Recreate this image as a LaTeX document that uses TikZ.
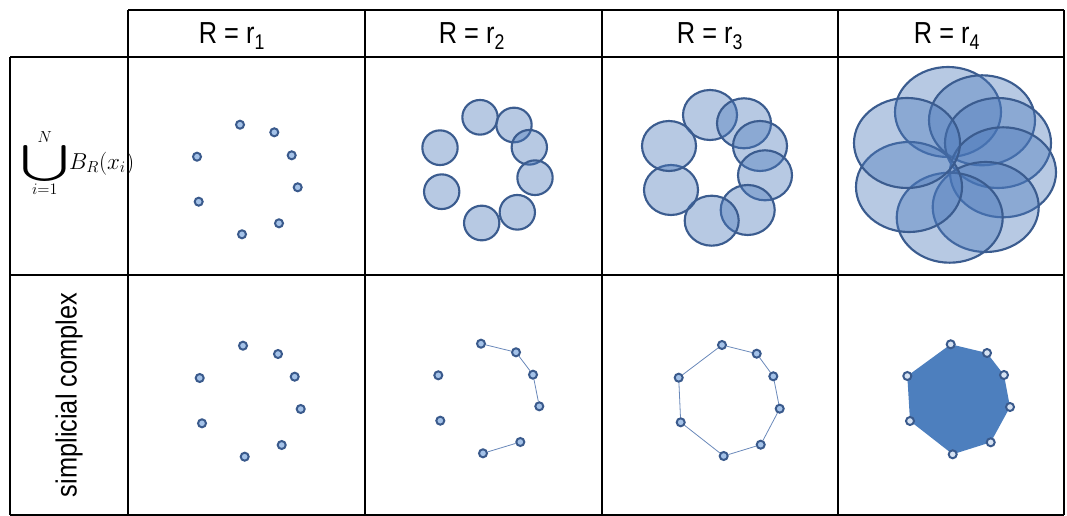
\documentclass[tikz,border=0pt]{standalone}
\usepackage[no-math]{fontspec}
\setmainfont{Liberation Sans}
\usetikzlibrary{shapes.geometric}
\definecolor{dotfill}{HTML}{A4C2E8}
\definecolor{dotline}{HTML}{3A5A8C}
\definecolor{dotwhite}{HTML}{D6E2F2}
\definecolor{ballfill}{HTML}{4A78BA}
\definecolor{ballline}{HTML}{3B5C8F}
\definecolor{edgecol}{HTML}{6A89BA}
\definecolor{polyfill}{HTML}{4D7FBE}
\pgfdeclarelayer{bg}\pgfsetlayers{bg,main}
\begin{document}
\begin{tikzpicture}[x=0.75pt,y=-0.75pt,
 grid/.style={line width=1.5pt,black},
 dot/.style={circle,draw=dotline,fill=dotfill,line width=1.5pt,minimum size=6pt,inner sep=0pt},
 wdot/.style={dot,fill=dotwhite},
 ball/.style={ellipse,draw=ballline,fill=ballfill,fill opacity=0.4,draw opacity=1,line width=1.6pt,inner sep=0pt},
 edge/.style={draw=edgecol,line width=0.6pt},
 head/.style={font=\fontsize{19}{21}\selectfont},
]
\useasboundingbox (0,0) rectangle (1067,516);
% headers
\node[head] (h1) at (232,36) {\scalebox{1}[1.2]{R = r\textsubscript{1}}};
\node[head] (h2) at (472,36) {\scalebox{1}[1.2]{R = r\textsubscript{2}}};
\node[head] (h3) at (710,36) {\scalebox{1}[1.2]{R = r\textsubscript{3}}};
\node[head] (h4) at (947,36) {\scalebox{1}[1.2]{R = r\textsubscript{4}}};
% row labels
\node[anchor=west,font=\fontsize{18}{20}\selectfont,inner sep=0pt] (l2) at (20,163)
  {$\mathop{\vcenter{\hbox{\scalebox{4.4}[2.7]{$\bigcup$}}}}\limits_{i=1}^{N}\! B_R(x_i)$};
\node[rotate=90,font=\fontsize{19}{21}\selectfont] (l3) at (69,395) {\scalebox{1}[1.15]{simplicial complex}};
% row 2, column 1: points
\foreach \x/\y [count=\i] in {240/124.7,274.3/132.3,291.7/155.3,297.7/187.3,279/223.3,242/234.3,198.7/201.7,197/156.7}
  \node[dot] (a1p\i) at (\x,\y) {};
% row 2, column 2: balls
\foreach \x/\y [count=\i] in {480/117.3,514/125,529.3/147.3,535/177.7,517.3/212.3,481.7/223,441.7/191.7,440/147.7}
  \node[ball,minimum width=26.5pt,minimum height=26pt] (a2p\i) at (\x,\y) {};
% row 2, column 3
\foreach \x/\y [count=\i] in {710/115,744/123.3,760/146,765/175.3,747.7/210,711.7/220.7,671/190,669/146}
  \node[ball,minimum width=40.5pt,minimum height=37.5pt] (a3p\i) at (\x,\y) {};
% row 2, column 4
\foreach \x/\y [count=\i] in {948/112,982/120.3,998/143,1003/172.3,985.7/207,949.7/217.7,909/187,907/143}
  \node[ball,minimum width=79.5pt,minimum height=67.5pt] (a4p\i) at (\x,\y) {};
% row 3
\foreach \x/\y [count=\i] in {243/345.7,278/354,294.7/376.7,300.7/409,281.7/445,244.7/456.7,202/423.3,199.7/378}
  \node[dot] (b1p\i) at (\x,\y) {};
\foreach \x/\y [count=\i] in {481/343.7,516/352.3,533/374.7,539.3/406.3,520.3/442,483/453.3,440.3/420.7,438.3/375.3}
  \node[dot] (b2p\i) at (\x,\y) {};
\foreach \x/\y [count=\i] in {722/345,756.7/353.7,773.3/376.3,779.7/408.7,760.7/444.7,723.7/456,680.7/422.3,678.7/377.7}
  \node[dot] (b3p\i) at (\x,\y) {};
\foreach \x/\y [count=\i] in {950.7/344.3,987/353,1004/375,1010/407,990.7/442.3,952.7/454.3,910/421,907.3/376}
  \node[wdot] (b4p\i) at (\x,\y) {};
\begin{pgfonlayer}{bg}
  \draw[edge] (b2p1) -- (b2p2) -- (b2p3) -- (b2p4);
  \draw[edge] (b2p5) -- (b2p6);
  \draw[edge] (b3p1) -- (b3p2) -- (b3p3) -- (b3p4) -- (b3p5) -- (b3p6) -- (b3p7) -- (b3p8) -- (b3p1);
  \fill[polyfill] (b4p1.center) -- (b4p2.center) -- (b4p3.center) -- (b4p4.center) -- (b4p5.center)
     -- (b4p6.center) -- (b4p7.center) -- (b4p8.center) -- cycle;
\end{pgfonlayer}
% table grid
\draw[grid] (128,10) -- (1064,10);
\draw[grid] (10,57) -- (1064,57);
\draw[grid] (10,275) -- (1064,275);
\draw[grid] (10,515) -- (1064,515);
\draw[grid] (10,57) -- (10,515);
\foreach \x in {128,365,602,838,1064} \draw[grid] (\x,10) -- (\x,515);
\end{tikzpicture}
\end{document}
